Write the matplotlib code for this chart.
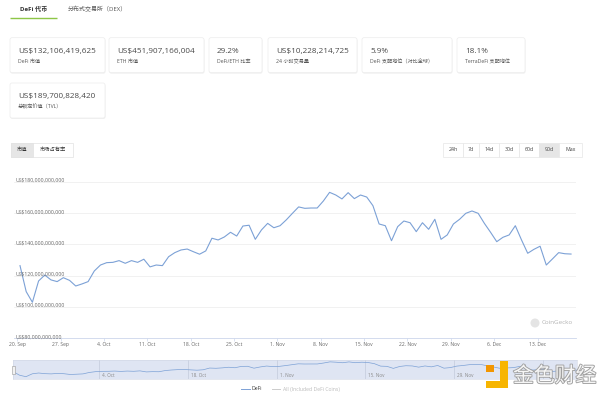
import numpy as np
import pandas as pd
import matplotlib
matplotlib.use('Agg')
import matplotlib.pyplot as plt
import matplotlib.dates as mdates
import matplotlib.patheffects as pe
from matplotlib.patches import FancyBboxPatch, Rectangle, Circle

plt.rcParams['font.family'] = ['Open Sans', 'Noto Sans CJK SC', 'DejaVu Sans']

# DeFi market cap, billions of US$, one point per day (90d view)
defi = [126.4, 109.8, 103.0, 116.6, 120.4, 117.3, 116.2, 118.7, 117.0, 113.4,
        114.7, 116.2, 123.0, 126.8, 128.3, 128.5, 129.6, 127.9, 129.6, 128.5,
        130.5, 125.6, 126.8, 126.4, 132.1, 134.7, 136.4, 137.0, 135.3, 133.7,
        135.8, 143.9, 142.8, 144.7, 147.7, 145.3, 151.7, 152.2, 143.2, 149.2,
        153.4, 150.6, 151.9, 155.6, 159.8, 163.9, 163.0, 163.2, 163.2, 167.7,
        173.2, 171.5, 169.0, 173.0, 169.2, 171.5, 170.2, 164.7, 153.0, 151.9,
        142.3, 151.3, 154.9, 153.8, 148.1, 153.8, 149.6, 156.0, 143.2, 146.0,
        153.0, 156.0, 159.8, 161.3, 159.8, 153.4, 147.7, 141.7, 144.5, 146.0,
        151.9, 142.8, 134.3, 136.8, 138.8, 126.8, 130.7, 134.7, 134.0, 133.8]
dates = pd.date_range('2021-09-20 10:00', periods=len(defi), freq='D')

yticks = [80, 100, 120, 140, 160, 180]
ylabels = ['US$80,000,000,000', 'US$100,000,000,000', 'US$120,000,000,000',
           'US$140,000,000,000', 'US$160,000,000,000', 'US$180,000,000,000']
xticks = pd.date_range('2021-09-20', '2021-12-13', freq='7D')
nav_ticks = pd.date_range('2021-10-04', '2021-12-13', freq='14D')

card_values = ['US$132,106,419,625', 'US$451,907,166,004', '29.2%',
               'US$10,228,214,725', '5.9%', '18.1%', 'US$189,700,828,420']
card_labels = ['DeFi 市值', 'ETH 市值', 'DeFi/ETH 比率', '24 小时交易量',
               'DeFi 支配地位（对比全球）', 'TerraDeFi 支配地位', '总锁定价值（TVL）']
range_buttons = ['24h', '7d', '14d', '30d', '60d', '90d', 'Max']

W, H = 600, 399
fig = plt.figure(figsize=(6, 3.99), dpi=100)


def rect(x0, y0, x1, y1):
    return [x0 / W, 1 - y1 / H, (x1 - x0) / W, (y1 - y0) / H]


bg = fig.add_axes([0, 0, 1, 1])
bg.set_xlim(0, W)
bg.set_ylim(H, 0)
bg.axis('off')

# tabs
bg.text(34, 9, 'DeFi 代币', ha='center', va='center', fontsize=4.4,
        fontweight='bold', color='#333333')
bg.plot([10, 57], [18.3, 18.3], color='#8dc647', lw=1.0, solid_capstyle='butt')
bg.text(68, 9, '分布式交易所（DEX）', ha='left', va='center', fontsize=4.3,
        color='#555555')

# stat cards
card_x = [(10, 105), (109, 204), (209, 262), (268, 357), (362, 452), (457, 525), (10, 105)]
card_y = [(37.7, 72.7)] * 6 + [(83, 118)]
for (cx0, cx1), (cy0, cy1), val, lab in zip(card_x, card_y, card_values, card_labels):
    bg.add_patch(FancyBboxPatch((cx0 + 0.5, cy0 + 1), cx1 - cx0, cy1 - cy0,
                                boxstyle='round,pad=0,rounding_size=2',
                                fc='#f1f1f1', ec='none'))
    bg.add_patch(FancyBboxPatch((cx0, cy0), cx1 - cx0, cy1 - cy0,
                                boxstyle='round,pad=0,rounding_size=2',
                                fc='white', ec='#ececec', lw=0.5))
    bg.text(cx0 + 8, cy0 + 13.5, val, ha='left', va='center', fontsize=5.9,
            color='#4a4a4a')
    bg.text(cx0 + 8, cy0 + 24, lab, ha='left', va='center', fontsize=3.7,
            color='#555555')

# left toggle
bg.add_patch(Rectangle((11, 142.5), 62, 14, fc='white', ec='#e2e2e2', lw=0.5))
bg.add_patch(Rectangle((11, 142.5), 22, 14, fc='#e6e6e6', ec='#e2e2e2', lw=0.5))
bg.text(22, 149.5, '市值', ha='center', va='center', fontsize=3.8, color='#333333')
bg.text(53, 149.5, '市场占有率', ha='center', va='center', fontsize=3.8, color='#333333')

# range buttons
edges = [443, 463, 479, 499, 519, 539, 559, 582]
for i, lab in enumerate(range_buttons):
    fc = '#e6e6e6' if lab == '90d' else 'white'
    bg.add_patch(Rectangle((edges[i], 142.5), edges[i + 1] - edges[i], 14,
                           fc=fc, ec='#e6e6e6', lw=0.5))
    bg.text((edges[i] + edges[i + 1]) / 2, 149.5, lab, ha='center', va='center',
            fontsize=3.8, color='#444444')

# main chart
ax = fig.add_axes(rect(14, 181.7, 576, 338.3))
ax.patch.set_alpha(0)
ax.plot(dates, defi, color='#7ca1d6', lw=0.8)
ax.set_ylim(80, 180)
xa = mdates.date2num(dates[0])
xb = mdates.date2num(dates[-1])
ax.set_xlim(xa - 0.97, xb + 0.8)
ax.set_yticks(yticks)
ax.tick_params(axis='y', length=0, labelleft=False)
ax.grid(axis='y', color='#ececec', lw=0.5)
for v, lab in zip(yticks, ylabels):
    ax.text(0.002, v, lab, transform=ax.get_yaxis_transform(), ha='left',
            va='baseline', fontsize=3.7, color='#666666')
for s in ['top', 'left', 'right']:
    ax.spines[s].set_visible(False)
ax.spines['bottom'].set_color('#ccd6eb')
ax.spines['bottom'].set_linewidth(0.6)
ax.set_xticks(mdates.date2num(xticks))
ax.xaxis.set_major_formatter(mdates.DateFormatter('%-d. %b'))
ax.tick_params(axis='x', length=2, width=0.5, color='#ccd6eb', labelsize=3.6,
               labelcolor='#666666', pad=1)

# watermark
bg.add_patch(Circle((535, 323), 4.5, fc='#e4e4e4', ec='none'))
bg.text(542, 323, 'CoinGecko', ha='left', va='center', fontsize=4.5, color='#b3b3b3')

# navigator
nav = fig.add_axes(rect(13.3, 360, 577, 379))
nav.set_facecolor('#dfe5f3')
nav.plot(dates, defi, color='#7ca1d6', lw=0.5)
nav.set_xlim(xa, xb)
nav.set_ylim(92, 182)
nav.set_xticks(mdates.date2num(nav_ticks))
nav.set_yticks([])
nav.grid(axis='x', color='#c3cadb', lw=0.5)
nav.tick_params(axis='x', length=0, labelbottom=False)
for s in nav.spines.values():
    s.set_color('#cfd5e3')
    s.set_linewidth(0.4)
# last label sits under the site logo in the original, so it is left out
for t in nav_ticks[:-1]:
    nav.text(mdates.date2num(t) + 0.45, 0.2, t.strftime('%-d. %b'),
             transform=nav.get_xaxis_transform(), ha='left', va='center',
             fontsize=3.3, color='#8a8a8a')

# legend
bg.plot([241, 250], [389, 389], color='#7ca1d6', lw=0.7)
bg.text(252, 389, 'DeFi', ha='left', va='center', fontsize=3.7, color='#333333')
bg.plot([272, 280], [389, 389], color='#cccccc', lw=0.7)
bg.text(283, 389, 'All (Included DeFi Coins)', ha='left', va='center',
        fontsize=3.7, color='#bbbbbb')

# overlay: navigator handle and site watermark
top = fig.add_axes([0, 0, 1, 1])
top.set_xlim(0, W)
top.set_ylim(H, 0)
top.axis('off')
top.add_patch(Rectangle((11.5, 365.5), 3.5, 8, fc='#f2f2f2', ec='#999999', lw=0.4))
top.add_patch(Rectangle((486, 365), 8, 7, fc='#f29600', ec='none'))
top.add_patch(Rectangle((500, 361), 8, 27, fc='#f7b500', ec='none'))
top.add_patch(Rectangle((486, 381), 22, 7, fc='#f7b500', ec='none'))
top.text(513, 376, '金色财经', ha='left', va='center', fontsize=15,
         family=['Noto Sans CJK SC'], color='#f6f6f6',
         path_effects=[pe.withStroke(linewidth=1.3, foreground='#a0a0a0')])

fig.savefig('out.png', dpi=100, facecolor='white')
